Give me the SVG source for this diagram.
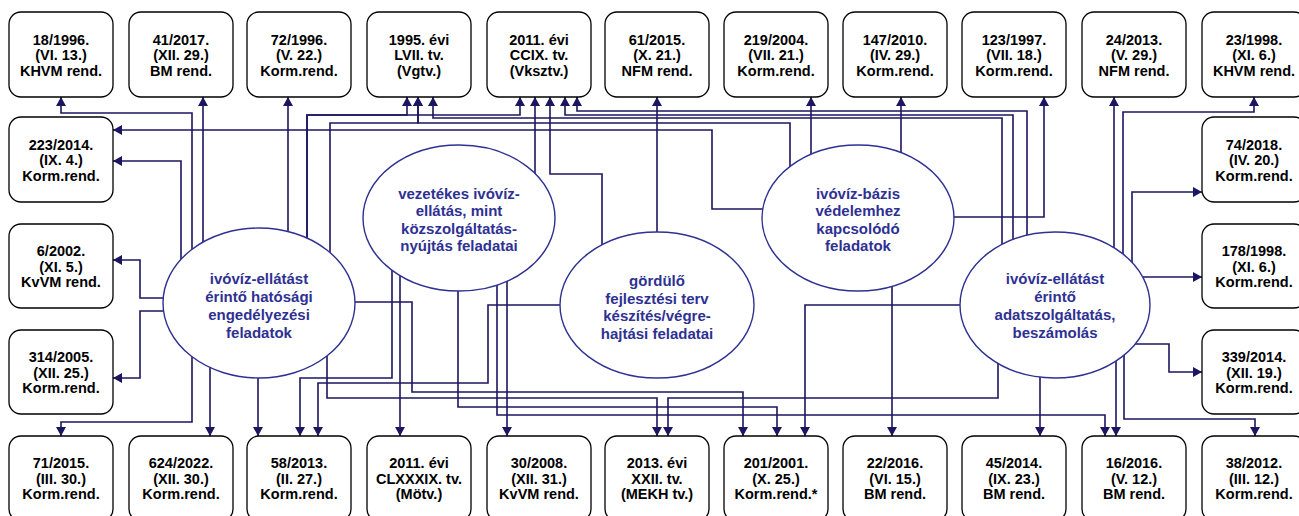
<svg xmlns="http://www.w3.org/2000/svg" width="1299" height="516" viewBox="0 0 1299 516">
<style>
.box{fill:#fff;stroke:#000;stroke-width:1.3}
.bt{font-family:"Liberation Sans",Arial,sans-serif;font-weight:bold;font-size:14.5px;fill:#000;text-anchor:middle}
.ell{fill:#fff;stroke:#2e3192;stroke-width:1.4}
.et{font-family:"Liberation Sans",Arial,sans-serif;font-weight:bold;font-size:15px;fill:#2e3192;text-anchor:middle}
.c{fill:none;stroke:#1c1660;stroke-width:1.6;marker-end:url(#ah)}
</style>
<defs>
<marker id="ah" viewBox="0 0 9 10" refX="9" refY="5" markerWidth="9" markerHeight="10" markerUnits="userSpaceOnUse" orient="auto"><path d="M0,0 L9,5 L0,10 z" fill="#1c1660"/></marker>
</defs>
<rect width="1299" height="516" fill="#fff"/>
<g id="connectors">
<polyline class="c" points="192,255 192,113 61,113 61,97"/>
<polyline class="c" points="203,245 203,97"/>
<polyline class="c" points="288,234 288,97"/>
<polyline class="c" points="307,241 307,115 407,115 407,97"/>
<polyline class="c" points="307,241 307,115 520,115 520,97"/>
<polyline class="c" points="330,256 330,123 418,123 418,97"/>
<polyline class="c" points="181,262 181,161 113,161"/>
<polyline class="c" points="166,298 140,298 140,260 113,260"/>
<polyline class="c" points="166,311 140,311 140,378 113,378"/>
<polyline class="c" points="192,354 192,422 61,422 61,436"/>
<polyline class="c" points="210,365 210,436"/>
<polyline class="c" points="258,375 258,436"/>
<polyline class="c" points="327,353 327,398 657,398 657,436"/>
<polyline class="c" points="352,302 412,302 412,392 743,392 743,436"/>
<polyline class="c" points="535,176 535,97"/>
<polyline class="c" points="392,266 392,378 300,378 300,436"/>
<polyline class="c" points="400,273 400,436"/>
<polyline class="c" points="458,288 458,407 777,407 777,436"/>
<polyline class="c" points="497,282 497,415 1105,415 1105,436"/>
<polyline class="c" points="507,278 507,436"/>
<polyline class="c" points="602,248 602,174 550,174 550,97"/>
<polyline class="c" points="657,235 657,97"/>
<polyline class="c" points="563,305 488,305 488,383 318,383 318,436"/>
<polyline class="c" points="765,209 712,209 712,130 113,130"/>
<polyline class="c" points="790,169 790,123 418,123 418,97"/>
<polyline class="c" points="811,157 811,97"/>
<polyline class="c" points="901,156 901,97"/>
<polyline class="c" points="951,217 1044,217 1044,97"/>
<polyline class="c" points="892,283 892,436"/>
<polyline class="c" points="1002,247 1002,118 433,118 433,97"/>
<polyline class="c" points="1013,242 1013,115 565,115 565,97"/>
<polyline class="c" points="1027,238 1027,111 577,111 577,97"/>
<polyline class="c" points="1114,251 1114,97"/>
<polyline class="c" points="1123,257 1123,112 1254,112 1254,97"/>
<polyline class="c" points="1132,265 1132,192 1202,192"/>
<polyline class="c" points="1142,277 1202,277"/>
<polyline class="c" points="1132,344 1169,344 1169,372 1202,372"/>
<polyline class="c" points="963,305 805,305 805,436"/>
<polyline class="c" points="998,360 998,398 668,398 668,436"/>
<polyline class="c" points="1040,375 1040,436"/>
<polyline class="c" points="1116,358 1116,436"/>
<polyline class="c" points="1124,352 1124,419 1255,419 1255,436"/>
</g>
<g id="e1"><ellipse class="ell" cx="259" cy="303" rx="96" ry="75"/><text class="et" x="259" y="283.5">ivóvíz-ellátást</text><text class="et" x="259" y="301.5">érintő hatósági</text><text class="et" x="259" y="319.5">engedélyezési</text><text class="et" x="259" y="337.5">feladatok</text></g>
<g id="e2"><ellipse class="ell" cx="459" cy="218" rx="96" ry="73"/><text class="et" x="459" y="198.5">vezetékes ivóvíz-</text><text class="et" x="459" y="216">ellátás, mint</text><text class="et" x="459" y="233.5">közszolgáltatás-</text><text class="et" x="459" y="251">nyújtás feladatai</text></g>
<g id="e3"><ellipse class="ell" cx="657" cy="305" rx="97" ry="73"/><text class="et" x="657" y="285.5">gördülő</text><text class="et" x="657" y="303.5">fejlesztési terv</text><text class="et" x="657" y="320.5">készítés/végre-</text><text class="et" x="657" y="338.5">hajtási feladatai</text></g>
<g id="e4"><ellipse class="ell" cx="858" cy="218" rx="96" ry="73"/><text class="et" x="858" y="198.5">ivóvíz-bázis</text><text class="et" x="858" y="216">védelemhez</text><text class="et" x="858" y="233.5">kapcsolódó</text><text class="et" x="858" y="251">feladatok</text></g>
<g id="e5"><ellipse class="ell" cx="1055" cy="305" rx="95" ry="73"/><text class="et" x="1055" y="283.5">ivóvíz-ellátást</text><text class="et" x="1055" y="302">érintő</text><text class="et" x="1055" y="320">adatszolgáltatás,</text><text class="et" x="1055" y="337.5">beszámolás</text></g>
<g id="t0"><rect class="box" x="9" y="12" width="104" height="85" rx="12"/><text class="bt" x="61" y="44.5">18/1996.</text><text class="bt" x="61" y="60">(VI. 13.)</text><text class="bt" x="61" y="75.5">KHVM rend.</text></g>
<g id="t1"><rect class="box" x="129" y="12" width="104" height="85" rx="12"/><text class="bt" x="181" y="44.5">41/2017.</text><text class="bt" x="181" y="60">(XII. 29.)</text><text class="bt" x="181" y="75.5">BM rend.</text></g>
<g id="t2"><rect class="box" x="247" y="12" width="104" height="85" rx="12"/><text class="bt" x="299" y="44.5">72/1996.</text><text class="bt" x="299" y="60">(V. 22.)</text><text class="bt" x="299" y="75.5">Korm.rend.</text></g>
<g id="t3"><rect class="box" x="367" y="12" width="104" height="85" rx="12"/><text class="bt" x="419" y="44.5">1995. évi</text><text class="bt" x="419" y="60">LVII. tv.</text><text class="bt" x="419" y="75.5">(Vgtv.)</text></g>
<g id="t4"><rect class="box" x="487" y="12" width="104" height="85" rx="12"/><text class="bt" x="539" y="44.5">2011. évi</text><text class="bt" x="539" y="60">CCIX. tv.</text><text class="bt" x="539" y="75.5">(Vksztv.)</text></g>
<g id="t5"><rect class="box" x="605" y="12" width="104" height="85" rx="12"/><text class="bt" x="657" y="44.5">61/2015.</text><text class="bt" x="657" y="60">(X. 21.)</text><text class="bt" x="657" y="75.5">NFM rend.</text></g>
<g id="t6"><rect class="box" x="724" y="12" width="104" height="85" rx="12"/><text class="bt" x="776" y="44.5">219/2004.</text><text class="bt" x="776" y="60">(VII. 21.)</text><text class="bt" x="776" y="75.5">Korm.rend.</text></g>
<g id="t7"><rect class="box" x="843" y="12" width="104" height="85" rx="12"/><text class="bt" x="895" y="44.5">147/2010.</text><text class="bt" x="895" y="60">(IV. 29.)</text><text class="bt" x="895" y="75.5">Korm.rend.</text></g>
<g id="t8"><rect class="box" x="962" y="12" width="104" height="85" rx="12"/><text class="bt" x="1014" y="44.5">123/1997.</text><text class="bt" x="1014" y="60">(VII. 18.)</text><text class="bt" x="1014" y="75.5">Korm.rend.</text></g>
<g id="t9"><rect class="box" x="1082" y="12" width="104" height="85" rx="12"/><text class="bt" x="1134" y="44.5">24/2013.</text><text class="bt" x="1134" y="60">(V. 29.)</text><text class="bt" x="1134" y="75.5">NFM rend.</text></g>
<g id="t10"><rect class="box" x="1202" y="12" width="104" height="85" rx="12"/><text class="bt" x="1254" y="44.5">23/1998.</text><text class="bt" x="1254" y="60">(XI. 6.)</text><text class="bt" x="1254" y="75.5">KHVM rend.</text></g>
<g id="l0"><rect class="box" x="9" y="117" width="104" height="85" rx="12"/><text class="bt" x="61" y="149.5">223/2014.</text><text class="bt" x="61" y="165">(IX. 4.)</text><text class="bt" x="61" y="180.5">Korm.rend.</text></g>
<g id="l1"><rect class="box" x="9" y="224" width="104" height="84" rx="12"/><text class="bt" x="61" y="256">6/2002.</text><text class="bt" x="61" y="271.5">(XI. 5.)</text><text class="bt" x="61" y="287">KvVM rend.</text></g>
<g id="l2"><rect class="box" x="9" y="330" width="104" height="84" rx="12"/><text class="bt" x="61" y="362">314/2005.</text><text class="bt" x="61" y="377.5">(XII. 25.)</text><text class="bt" x="61" y="393">Korm.rend.</text></g>
<g id="r0"><rect class="box" x="1202" y="117" width="104" height="85" rx="12"/><text class="bt" x="1254" y="149.5">74/2018.</text><text class="bt" x="1254" y="165">(IV. 20.)</text><text class="bt" x="1254" y="180.5">Korm.rend.</text></g>
<g id="r1"><rect class="box" x="1202" y="224" width="104" height="84" rx="12"/><text class="bt" x="1254" y="256">178/1998.</text><text class="bt" x="1254" y="271.5">(XI. 6.)</text><text class="bt" x="1254" y="287">Korm.rend.</text></g>
<g id="r2"><rect class="box" x="1202" y="330" width="104" height="84" rx="12"/><text class="bt" x="1254" y="362">339/2014.</text><text class="bt" x="1254" y="377.5">(XII. 19.)</text><text class="bt" x="1254" y="393">Korm.rend.</text></g>
<g id="b0"><rect class="box" x="9" y="436" width="104" height="85" rx="12"/><text class="bt" x="61" y="468">71/2015.</text><text class="bt" x="61" y="483.5">(III. 30.)</text><text class="bt" x="61" y="499">Korm.rend.</text></g>
<g id="b1"><rect class="box" x="129" y="436" width="104" height="85" rx="12"/><text class="bt" x="181" y="468">624/2022.</text><text class="bt" x="181" y="483.5">(XII. 30.)</text><text class="bt" x="181" y="499">Korm.rend.</text></g>
<g id="b2"><rect class="box" x="247" y="436" width="104" height="85" rx="12"/><text class="bt" x="299" y="468">58/2013.</text><text class="bt" x="299" y="483.5">(II. 27.)</text><text class="bt" x="299" y="499">Korm.rend.</text></g>
<g id="b3"><rect class="box" x="367" y="436" width="104" height="85" rx="12"/><text class="bt" x="419" y="468">2011. évi</text><text class="bt" x="419" y="483.5">CLXXXIX. tv.</text><text class="bt" x="419" y="499">(Mötv.)</text></g>
<g id="b4"><rect class="box" x="487" y="436" width="104" height="85" rx="12"/><text class="bt" x="539" y="468">30/2008.</text><text class="bt" x="539" y="483.5">(XII. 31.)</text><text class="bt" x="539" y="499">KvVM rend.</text></g>
<g id="b5"><rect class="box" x="605" y="436" width="104" height="85" rx="12"/><text class="bt" x="657" y="468">2013. évi</text><text class="bt" x="657" y="483.5">XXII. tv.</text><text class="bt" x="657" y="499">(MEKH tv.)</text></g>
<g id="b6"><rect class="box" x="724" y="436" width="104" height="85" rx="12"/><text class="bt" x="776" y="468">201/2001.</text><text class="bt" x="776" y="483.5">(X. 25.)</text><text class="bt" x="776" y="499">Korm.rend.*</text></g>
<g id="b7"><rect class="box" x="843" y="436" width="104" height="85" rx="12"/><text class="bt" x="895" y="468">22/2016.</text><text class="bt" x="895" y="483.5">(VI. 15.)</text><text class="bt" x="895" y="499">BM rend.</text></g>
<g id="b8"><rect class="box" x="962" y="436" width="104" height="85" rx="12"/><text class="bt" x="1014" y="468">45/2014.</text><text class="bt" x="1014" y="483.5">(IX. 23.)</text><text class="bt" x="1014" y="499">BM rend.</text></g>
<g id="b9"><rect class="box" x="1082" y="436" width="104" height="85" rx="12"/><text class="bt" x="1134" y="468">16/2016.</text><text class="bt" x="1134" y="483.5">(V. 12.)</text><text class="bt" x="1134" y="499">BM rend.</text></g>
<g id="b10"><rect class="box" x="1202" y="436" width="104" height="85" rx="12"/><text class="bt" x="1254" y="468">38/2012.</text><text class="bt" x="1254" y="483.5">(III. 12.)</text><text class="bt" x="1254" y="499">Korm.rend.</text></g>
</svg>
